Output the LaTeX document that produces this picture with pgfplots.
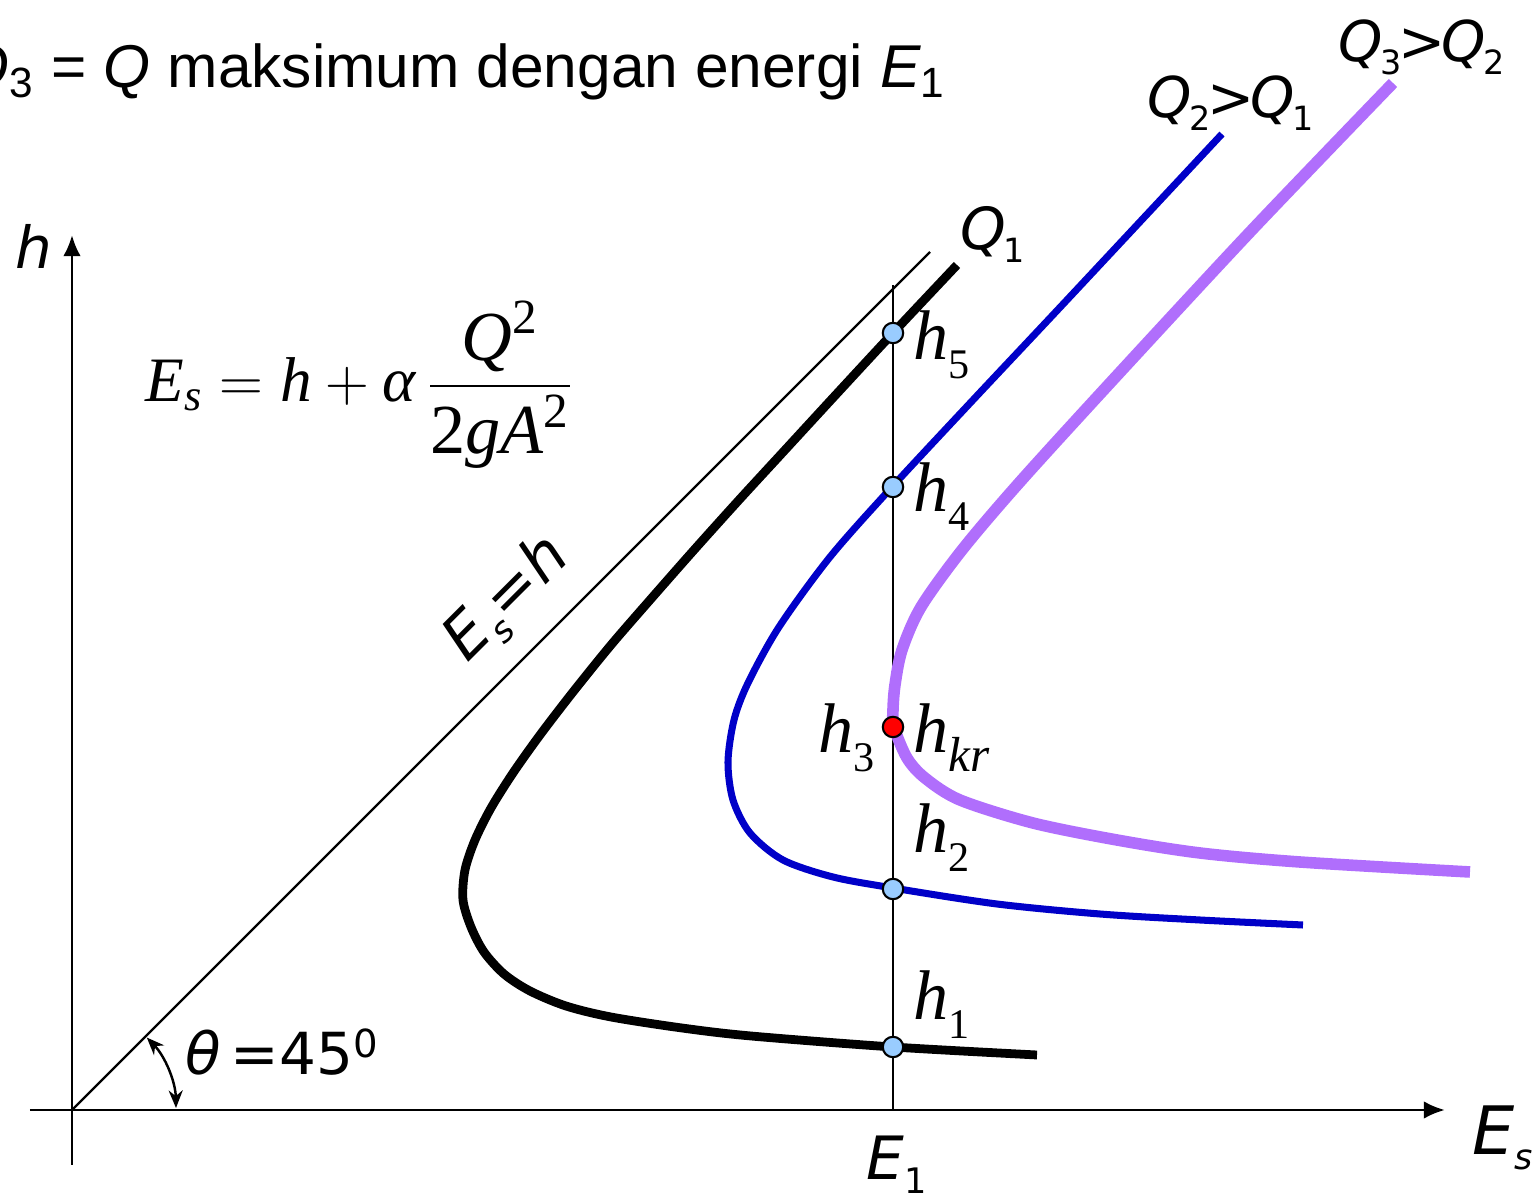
\documentclass[border=0pt]{standalone}
\usepackage{amsmath}
\usepackage{fontspec}
\setmainfont{Liberation Serif}
\newfontfamily\arial{Liberation Sans}
\newfontfamily\dv{DejaVu Sans}
\usepackage{pgfplots}
\pgfplotsset{compat=1.18}
\usetikzlibrary{arrows.meta}

\definecolor{qblue}{RGB}{0,0,200}
\definecolor{qpurple}{RGB}{176,110,252}
\definecolor{dotblue}{RGB}{153,204,255}

% lowered subscripts for the labels
\newcommand\hs[2][12]{\textit{h}\raisebox{-0.27em}{\fontsize{#1}{#1}\selectfont #2}}
\newcommand\ds[2]{#1\raisebox{-0.22em}{\fontsize{10}{10}\selectfont #2}}
\newcommand\qs[1]{Q\kern-0.05em\raisebox{-0.22em}{\fontsize{9.5}{10}\selectfont\upshape #1}}

\begin{document}
\begin{tikzpicture}
\begin{axis}[
  width=15.4cm, height=12cm, scale only axis,
  xmin=-72, xmax=1468, ymin=-90, ymax=1110,
  hide axis, clip=false,
]
\coordinate (bl) at (axis cs:-72,-90);
\coordinate (tr) at (axis cs:1468,1110);

% coordinate axes
\draw[line width=0.85pt, -{Latex[length=6pt,width=5pt]}] (axis cs:-42,0) -- (axis cs:1373,0);
\draw[line width=0.85pt, -{Latex[length=6pt,width=5pt]}] (axis cs:0,-55) -- (axis cs:0,875);

% E_s = h reference line and the E_1 ordinate
\addplot[black, line width=0.7pt] coordinates {(0,0) (858,858)};
\addplot[black, line width=0.7pt] coordinates {(821,0) (821,825)};

% angle of the reference line
\draw[line width=0.7pt, {Stealth[length=5pt,width=4pt]}-{Stealth[length=5pt,width=4pt]}]
  (axis cs:104,2) arc[start angle=1, end angle=44, radius=1.04cm];

% specific energy curves
\addplot[black, line width=2.5pt, smooth] coordinates {
  (965,55) (821,63) (679,74) (610,82) (539,93) (494,104) (458,119) (432,136)
  (412,158) (399,183) (391,210) (393,240) (403,270) (419,302) (441,337)
  (468,375) (501,418) (539,465) (578,510) (622,560) (667,610) (713,660)
  (759,710) (821,777) (885,845)};
\addplot[qblue, line width=2pt, smooth] coordinates {
  (1231,185) (1128,190) (1028,196) (925,206) (821,222) (761,233) (711,250)
  (678,277) (661,310) (656,348) (662,390) (676,427) (707,483) (758,553)
  (820,623) (901,710) (994,809) (1150,976)};
\addplot[qpurple, line width=3.3pt, smooth] coordinates {
  (1398,238) (1228,248) (1128,257) (1045,270) (961,287) (888,310)
  (853,332) (835,352) (822,383) (821,400) (823,425) (830,460) (849,503)
  (890,560) (947,627) (1039,728) (1179,879) (1321,1027)};

% depths at energy E_1
\addplot[only marks, mark=*, mark size=2.9pt,
  mark options={fill=dotblue, draw=black, line width=0.6pt}]
  coordinates {(821,777) (821,623) (821,221) (821,63)};
\addplot[only marks, mark=*, mark size=2.9pt,
  mark options={fill=red, draw=black, line width=0.6pt}]
  coordinates {(821,383)};

% labels
\node[anchor=base west, inner sep=0] at (axis cs:-110,1022)
  {\arial\fontsize{17.2}{20}\selectfont \textit{Q}\textsubscript{3} = \textit{Q} maksimum dengan energi \textit{E}\textsubscript{1}};
\node[anchor=base west, inner sep=0] at (axis cs:-57,841)
  {\dv\itshape\fontsize{16.5}{18}\selectfont h};
\node[anchor=base west, inner sep=0] at (axis cs:1400,-45)
  {\dv\itshape\fontsize{19}{20}\selectfont \ds{E}{s}};
\node[anchor=base west, inner sep=0] at (axis cs:794,-70)
  {\dv\itshape\fontsize{17}{18}\selectfont \ds{E}{\upshape 1}};
\node[anchor=base west, inner sep=0] at (axis cs:888,860)
  {\dv\itshape\fontsize{16.5}{18}\selectfont \qs{1}};
\node[anchor=base west, inner sep=0] at (axis cs:1075,992)
  {\dv\itshape\fontsize{16}{18}\selectfont \qs{2}\kern-0.06em{\upshape >}\kern-0.06em\qs{1}};
\node[anchor=base west, inner sep=0] at (axis cs:1266,1048)
  {\dv\itshape\fontsize{16}{18}\selectfont \qs{3}\kern-0.06em{\upshape >}\kern-0.06em\qs{2}};
\node[rotate=45, inner sep=0] at (axis cs:436,510)
  {\dv\itshape\fontsize{17.5}{18}\selectfont \ds{E}{s}={}h};
\node[anchor=base west, inner sep=0] at (axis cs:113,35)
  {\dv\fontsize{16.5}{18}\selectfont \textit{θ}\,=45\raisebox{0.3em}{\fontsize{11}{11}\selectfont 0}};
\node[inner sep=0] at (axis cs:288,725)
  {\fontsize{18}{20}\selectfont $\textit{E}_{\textit{s}} = \textit{h} + \textit{α}\,
   \dfrac{\text{\fontsize{20}{22}\selectfont\textit{Q}\textsuperscript{2}}}{\text{\fontsize{20}{22}\selectfont 2\textit{gA}\textsuperscript{2}}}$};

\node[anchor=base west, inner sep=0] at (axis cs:841,750) {\fontsize{20}{22}\selectfont\hs{5}};
\node[anchor=base west, inner sep=0] at (axis cs:841,598) {\fontsize{20}{22}\selectfont\hs{4}};
\node[anchor=base west, inner sep=0] at (axis cs:746,357) {\fontsize{20}{22}\selectfont\hs{3}};
\node[anchor=base west, inner sep=0] at (axis cs:841,357) {\fontsize{20}{22}\selectfont\hs[14]{\textit{kr}}};
\node[anchor=base west, inner sep=0] at (axis cs:841,257) {\fontsize{20}{22}\selectfont\hs{2}};
\node[anchor=base west, inner sep=0] at (axis cs:841,90) {\fontsize{20}{22}\selectfont\hs{1}};
\end{axis}
\pgfresetboundingbox
\path (bl) rectangle (tr);
\end{tikzpicture}
\end{document}
